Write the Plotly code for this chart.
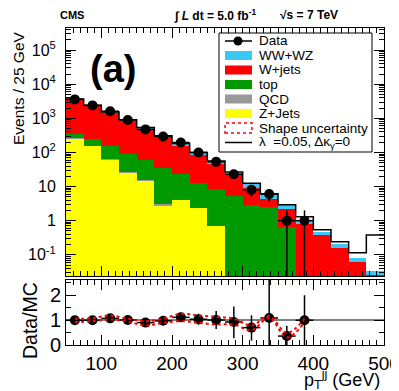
import plotly.graph_objects as go
import numpy as np

# bin centres of the 25 GeV bins (50-500 GeV)
centers = [62.5, 87.5, 112.5, 137.5, 162.5, 187.5, 212.5, 237.5, 262.5,
           287.5, 312.5, 337.5, 362.5, 387.5, 412.5, 437.5, 462.5, 487.5]

# stacked MC components (events / 25 GeV)
zjets = [260, 157, 64, 25, 15, 2.8, 4.0, 2.3, 0.69, 0, 0, 0, 0, 0, 0, 0, 0, 0]
qcd = [4, 3, 2, 1, 0.5, 0.3, 0, 0, 0, 0, 0, 0, 0, 0, 0, 0, 0, 0]
top = [83, 87, 84, 64, 44.5, 31.9, 19, 10.3, 7.8, 5.4, 2.9, 2.5, 0.65, 0, 0, 0, 0, 0]
wjets = [3213, 2108, 1320, 774, 444, 252, 141, 75.4, 38.5, 16.1, 6.4, 1.95, 1.6,
         0.81, 0.37, 0.155, 0.06, 0.025]
wwwz = [80, 65, 50, 36, 26, 18, 13, 9, 6, 3.5, 2.2, 1.1, 0.55, 0.2, 0.1, 0.045, 0.02, 0.008]

# anomalous coupling prediction (lambda = 0.05)
lam = [3720, 2440, 1540, 910, 540, 310, 182, 100, 56, 26.5, 12.6, 6.2, 2.95,
       1.3, 0.54, 0.24, 0.115, 0.38]

# data
data_x = centers[:14]
data = [3600, 2400, 1620, 900, 475, 295, 196, 100, 53, 23, 8, 6, 1, 1]

# ratio panel errors and shape uncertainty envelope
ratio_err_up = [0.03, 0.03, 0.03, 0.04, 0.06, 0.07, 0.1, 0.22, 0.36, 0.62, 0.49, 1.6, 0.41, 1.0]
ratio_err_dn = [0.03, 0.03, 0.03, 0.04, 0.06, 0.07, 0.1, 0.22, 0.36, 0.65, 0.52, 1.08, 0.37, 1.0]
shape_up = [1.05, 1.07, 1.18, 1.05, 0.955, 1.05, 1.25, 1.18, 1.13, 1.05, 0.78, 1.16, 0.48, 1.05]
shape_dn = [0.91, 0.955, 1.02, 0.93, 0.78, 0.887, 0.955, 0.887, 0.82, 0.82, 0.586, 1.09, 0.3, 0.91]

FONT = "Liberation Sans"
C_WW = "#3cc8f4"
C_W = "#ff0000"
C_TOP = "#009a00"
C_QCD = "#999999"
C_Z = "#ffff00"

total = np.array(zjets) + np.array(qcd) + np.array(top) + np.array(wjets) + np.array(wwwz)
d = np.array(data, dtype=float)
ratio = d / total[:14]
err = np.sqrt(d)
err_dn = np.minimum(err, d * 0.999)

edges = [c - 12.5 for c in centers] + [centers[-1] + 12.5]

fig = go.Figure()
for name, vals, col in [("Z+Jets", zjets, C_Z), ("QCD", qcd, C_QCD), ("top", top, C_TOP),
                        ("W+jets", wjets, C_W), ("WW+WZ", wwwz, C_WW)]:
    fig.add_trace(go.Bar(x=centers, y=vals, width=25, name=name, marker_color=col,
                         marker_line_width=0, xaxis="x", yaxis="y", showlegend=False))

fig.add_trace(go.Scatter(x=edges, y=lam + [lam[-1]], mode="lines", line_shape="hv",
                         line=dict(color="black", width=1.5), xaxis="x", yaxis="y",
                         showlegend=False))

fig.add_trace(go.Scatter(x=data_x, y=data, mode="markers",
                         marker=dict(color="black", size=10),
                         error_y=dict(type="data", array=err, arrayminus=err_dn,
                                      color="black", thickness=1.5, width=0),
                         error_x=dict(type="constant", value=12.5, color="black",
                                      thickness=1.5, width=0),
                         xaxis="x", yaxis="y", showlegend=False))

# ratio panel
fig.add_trace(go.Scatter(x=data_x, y=ratio, mode="markers",
                         marker=dict(color="black", size=10),
                         error_y=dict(type="data", array=ratio_err_up, arrayminus=ratio_err_dn,
                                      color="black", thickness=1.5, width=0),
                         error_x=dict(type="constant", value=12.5, color="black",
                                      thickness=1.5, width=0),
                         xaxis="x2", yaxis="y2", showlegend=False))
for band in (shape_up, shape_dn):
    fig.add_trace(go.Scatter(x=data_x, y=band, mode="lines", line_shape="spline",
                             line=dict(color="red", width=2, dash="dot"),
                             xaxis="x2", yaxis="y2", showlegend=False))

# page pixel -> paper helpers (plot area on the page: x 66..384, y 28..345)
def px(x):
    return (x - 66) / 318.0


def py(y):
    return (345 - y) / 317.0


minor_log = [m * 10.0 ** e for e in range(-2, 6) for m in range(2, 10)]
ax_common = dict(showline=True, linecolor="black", linewidth=1, mirror="ticks",
                 ticks="inside", tickcolor="black", showgrid=False, zeroline=False,
                 automargin=False)

# the page body adds an 8px offset, so margins are shifted by 8px
fig.update_layout(
    template="none",
    width=399, height=383,
    margin=dict(l=58, r=23, t=20, b=46, autoexpand=False),
    paper_bgcolor="white", plot_bgcolor="white",
    barmode="stack", bargap=0,
    font=dict(family=FONT, color="black"),
    xaxis=dict(domain=[0, 1], range=[50, 500], anchor="y", showticklabels=False,
               tick0=0, dtick=100, ticklen=10,
               minor=dict(ticks="inside", dtick=10, ticklen=5, tickcolor="black"),
               **ax_common),
    yaxis=dict(domain=[0.218, 1], type="log", range=[-1.62, 5.65], anchor="x",
               tickvals=[0.1, 1, 10, 100, 1e3, 1e4, 1e5],
               ticktext=["10<sup>-1</sup>", "1", "10", "10<sup>2</sup>", "10<sup>3</sup>",
                         "10<sup>4</sup>", "10<sup>5</sup>"],
               ticklen=10, tickfont=dict(size=16), ticklabelstandoff=6,
               minor=dict(ticks="inside", tickvals=minor_log, ticklen=5, tickcolor="black"),
               **ax_common),
    xaxis2=dict(domain=[0, 1], range=[50, 500], anchor="y2", matches="x",
                tick0=0, dtick=100, ticklen=10, tickfont=dict(size=19),
                ticklabelstandoff=1, ticklabeloverflow="allow",
                minor=dict(ticks="inside", dtick=10, ticklen=5, tickcolor="black"),
                **ax_common),
    yaxis2=dict(domain=[0, 0.205], range=[0, 2.6], anchor="x2",
                tickvals=[0, 1, 2], ticklen=10, tickfont=dict(size=20),
                minor=dict(ticks="inside", dtick=0.5, ticklen=5, tickcolor="black"),
                **ax_common),
)

shapes = [
    dict(type="line", xref="x2", yref="y2", x0=50, x1=500, y0=1, y1=1,
         line=dict(color="black", width=1), layer="below"),
    # legend box
    dict(type="rect", xref="paper", yref="paper", x0=px(219), x1=px(372), y0=py(152), y1=py(33),
         fillcolor="white", line=dict(color="black", width=1)),
]
annotations = []
rows = [41, 55.5, 70, 84.5, 99, 113.5, 128, 142.5]
labels = ["Data", "WW+WZ", "W+jets", "top", "QCD", "Z+Jets", "Shape uncertainty",
          "λ  =0.05, Δκ<sub>γ</sub>=0"]
fills = [None, C_WW, C_W, C_TOP, C_QCD, C_Z, None, None]
for yy, lab, col in zip(rows, labels, fills):
    if col is not None:
        shapes.append(dict(type="rect", xref="paper", yref="paper", x0=px(225), x1=px(252),
                           y0=py(yy + 4.5), y1=py(yy - 4.5), fillcolor=col, line_width=0))
    annotations.append(dict(x=px(257), y=py(yy), text=lab, xanchor="left",
                            font=dict(size=13.5, family=FONT)))
shapes.append(dict(type="line", xref="paper", yref="paper", x0=px(225), x1=px(252),
                   y0=py(41), y1=py(41), line=dict(color="black", width=1.5)))
shapes.append(dict(type="circle", xref="paper", yref="paper", x0=px(233.5), x1=px(242.5),
                   y0=py(45.5), y1=py(36.5), fillcolor="black", line_width=0))
shapes.append(dict(type="rect", xref="paper", yref="paper", x0=px(225), x1=px(252),
                   y0=py(133), y1=py(123), line=dict(color="red", width=1.5, dash="dot")))
shapes.append(dict(type="line", xref="paper", yref="paper", x0=px(225), x1=px(252),
                   y0=py(142.5), y1=py(142.5), line=dict(color="black", width=1.5)))

annotations += [
    dict(x=px(113), y=py(69), text="<b>(a)</b>", font=dict(size=38, family=FONT)),
    dict(x=px(72), y=py(15), text="<b>CMS</b>", font=dict(size=11, family=FONT)),
    dict(x=px(172), y=py(15), text="<b>∫ <i>L</i> dt = 5.0 fb<sup>-1</sup></b>",
         xanchor="left", font=dict(size=12, family=FONT)),
    dict(x=px(278), y=py(15), text="<b>√s = 7 TeV</b>", xanchor="left",
         font=dict(size=12, family=FONT)),
    dict(x=px(18), y=py(88), text="Events / 25 GeV", textangle=-90,
         font=dict(size=15.5, family=FONT)),
    dict(x=px(30), y=py(321), text="Data/MC", textangle=-90, font=dict(size=19.5, family=FONT)),
    dict(x=px(382), y=py(379), text="p<sub>T</sub><sup>jj</sup> (GeV)", xanchor="right",
         font=dict(size=18, family=FONT)),
]
for a in annotations:
    a.setdefault("xref", "paper")
    a.setdefault("yref", "paper")
    a.setdefault("showarrow", False)
    a.setdefault("xanchor", "center")
    a.setdefault("yanchor", "middle")

fig.update_layout(shapes=shapes, annotations=annotations)

fig.write_html("out.html")
